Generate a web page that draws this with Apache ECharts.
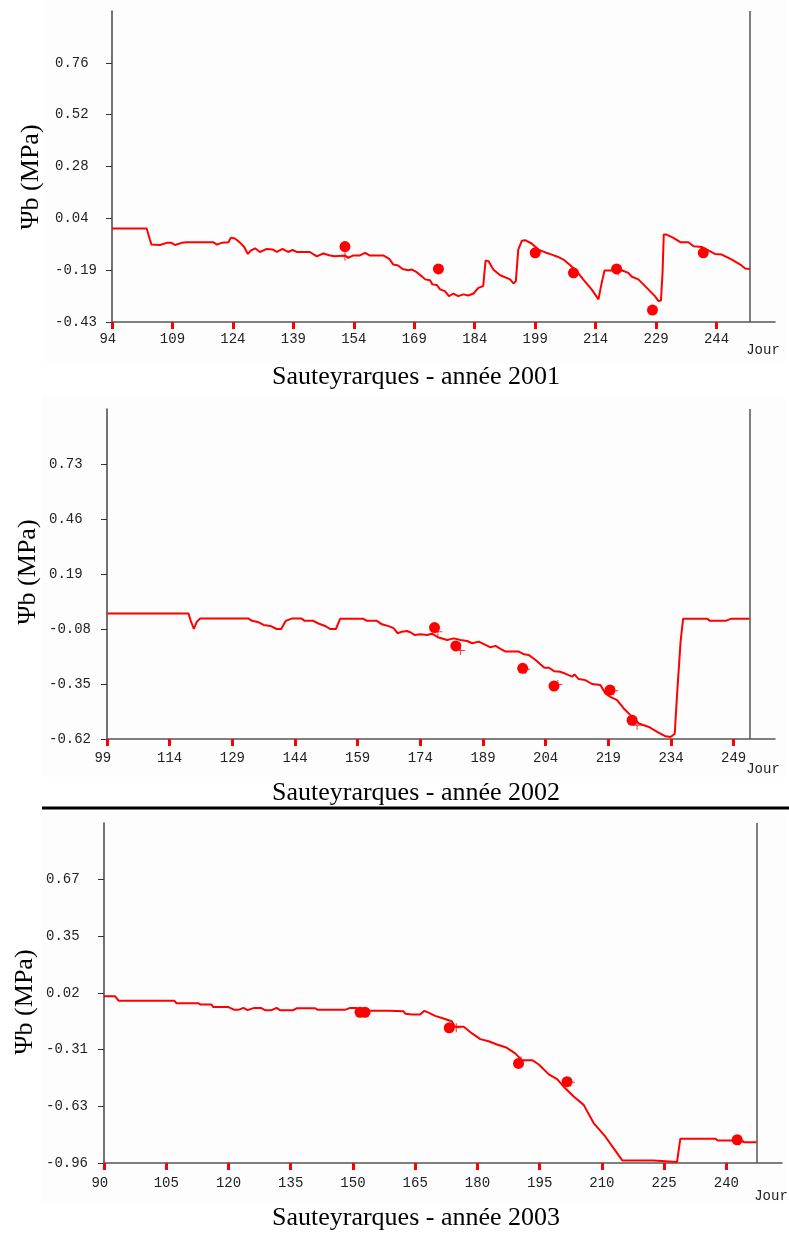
<!DOCTYPE html>
<html>
<head>
<meta charset="utf-8">
<script src="https://cdn.jsdelivr.net/npm/echarts@6/dist/echarts.min.js"></script>
<style>
  html, body { margin: 0; padding: 0; background: #ffffff; }
  #chart { width: 789px; height: 1237px; }
</style>
</head>
<body>
<div id="chart"></div>
<script>
// Simulated predawn leaf water potential (line), measurements (dots) and
// model values on measurement days (crosses), Sauteyrarques 2001-2003.

const years = ['2001', '2002', '2003'];

// [day of year, Ψb in MPa]
const line2001 = [
  [94,0.0],[102.6,0.0],[103.4,-0.051],[103.8,-0.074],[105.9,-0.076],[107.6,-0.066],[108.8,-0.066],[109.6,-0.076],[111.3,-0.066],[112.5,-0.063],
  [119.1,-0.063],[120,-0.074],[121.2,-0.066],[122.9,-0.063],[123.5,-0.042],[124.5,-0.046],[125.8,-0.066],[126.8,-0.085],[127.7,-0.117],[128.4,-0.102],
  [129.5,-0.091],[130.7,-0.108],[132.4,-0.094],[133.9,-0.097],[134.9,-0.108],[136.3,-0.094],[137.7,-0.108],[138.8,-0.099],[139.8,-0.108],[143.1,-0.108],
  [144.8,-0.128],[146.4,-0.115],[148.1,-0.124],[149.3,-0.128],[151.8,-0.124],[152.6,-0.135],[153.9,-0.124],[155.5,-0.124],[156.8,-0.112],[157.9,-0.124],
  [161.3,-0.124],[162.8,-0.140],[163.8,-0.166],[165.0,-0.170],[166.1,-0.186],[167.5,-0.192],[168.4,-0.189],[169.6,-0.201],[170.8,-0.219],[171.7,-0.234],
  [172.9,-0.238],[173.5,-0.257],[174.6,-0.260],[175.4,-0.280],[176.6,-0.288],[177.6,-0.311],[178.7,-0.299],[179.9,-0.311],[181.2,-0.303],[182.4,-0.308],
  [183.7,-0.299],[184.9,-0.273],[186.1,-0.265],[186.7,-0.147],[187.4,-0.150],[188.6,-0.189],[190.3,-0.215],[192.8,-0.234],[193.6,-0.253],[194.2,-0.242],
  [194.8,-0.097],[195.7,-0.056],[196.5,-0.054],[198.1,-0.069],[199.8,-0.097],[201.4,-0.109],[203.1,-0.120],[204.7,-0.131],[206.0,-0.143],[207.2,-0.161],
  [209.3,-0.196],[210.9,-0.234],[213.0,-0.280],[214.7,-0.326],[215.5,-0.250],[216.2,-0.193],[218.0,-0.193],[220.5,-0.192],[222.1,-0.204],[223.0,-0.222],
  [224.6,-0.234],[226.7,-0.273],[228.7,-0.311],[229.6,-0.334],[230.2,-0.331],[230.6,-0.204],[230.9,-0.028],[231.6,-0.028],[233.3,-0.043],[235.0,-0.063],
  [237.0,-0.063],[238.3,-0.082],[240.3,-0.085],[241.6,-0.097],[243.6,-0.117],[245.3,-0.120],[247.8,-0.143],[250.2,-0.170],[251.1,-0.184],[252.3,-0.186]
];
const measured2001 = [[151.8,-0.083],[175.0,-0.186],[199.0,-0.112],[208.5,-0.204],[219.2,-0.186],[228.1,-0.375],[240.7,-0.112]];
const simulated2001 = [[151.8,-0.128],[199.5,-0.108],[219.6,-0.196]];

const line2002 = [
  [99,-0.004],[118.5,-0.004],[119.1,-0.043],[119.8,-0.080],[120.5,-0.044],[121.3,-0.029],[132.9,-0.029],[133.7,-0.040],[135.3,-0.047],[136.5,-0.060],
  [138.1,-0.065],[139.6,-0.080],[140.7,-0.080],[141.8,-0.040],[143.2,-0.029],[145.6,-0.029],[146.3,-0.040],[148.4,-0.040],[149.6,-0.053],[151.2,-0.065],
  [152.4,-0.080],[153.8,-0.080],[154.8,-0.030],[160.4,-0.030],[161.2,-0.040],[163.6,-0.040],[164.8,-0.057],[166.4,-0.066],[167.6,-0.076],[168.6,-0.101],
  [169.6,-0.093],[170.8,-0.090],[171.6,-0.096],[172.6,-0.109],[174.0,-0.106],[175.6,-0.109],[176.8,-0.103],[178.4,-0.122],[180.4,-0.134],[182.0,-0.126],
  [183.6,-0.134],[185.2,-0.139],[186.4,-0.150],[188.0,-0.142],[189.6,-0.158],[190.8,-0.170],[192.0,-0.163],[193.2,-0.178],[194.4,-0.191],[197.6,-0.191],
  [198.8,-0.204],[200.0,-0.208],[201.6,-0.232],[202.8,-0.254],[203.7,-0.270],[204.8,-0.270],[206.0,-0.287],[207.5,-0.290],[209.1,-0.303],[210.3,-0.314],
  [210.9,-0.303],[211.9,-0.326],[213.5,-0.331],[215.1,-0.350],[217.1,-0.355],[218.3,-0.396],[219.5,-0.413],[221.1,-0.429],[222.7,-0.470],[224.3,-0.503],
  [226.3,-0.544],[228.7,-0.561],[230.7,-0.585],[232.7,-0.607],[233.9,-0.610],[234.9,-0.594],[235.5,-0.388],[236.3,-0.142],[236.9,-0.030],[242.7,-0.030],
  [243.3,-0.040],[247.1,-0.040],[248.3,-0.030],[252.8,-0.030]
];
const measured2002 = [[177.4,-0.073],[182.5,-0.163],[198.5,-0.273],[206.0,-0.360],[219.4,-0.380],[224.7,-0.528]];
const simulated2002 = [[178.2,-0.093],[183.6,-0.186],[199.2,-0.277],[206.9,-0.352],[220.3,-0.383],[225.9,-0.553]];

const line2003 = [
  [90,0.001],[92.7,0.001],[93.5,-0.024],[106.9,-0.024],[107.5,-0.039],[112.7,-0.039],[113.3,-0.047],[115.9,-0.047],[116.3,-0.060],[119.9,-0.060],
  [121.4,-0.077],[122.4,-0.077],[123.6,-0.066],[124.6,-0.079],[126.2,-0.066],[127.8,-0.066],[128.8,-0.079],[130.4,-0.079],[131.6,-0.066],[132.4,-0.079],
  [135.6,-0.079],[136.4,-0.068],[140.9,-0.068],[141.5,-0.077],[148.1,-0.077],[149.3,-0.066],[150.9,-0.066],[151.3,-0.083],[158.6,-0.083],[159.0,-0.077],
  [162.2,-0.085],[162.6,-0.099],[164.2,-0.104],[166.2,-0.104],[167.2,-0.083],[168.2,-0.093],[169.8,-0.112],[171.8,-0.127],[173.8,-0.143],[174.6,-0.175],
  [176.7,-0.175],[178.7,-0.213],[180.7,-0.246],[182.7,-0.258],[184.7,-0.277],[187.1,-0.296],[189.1,-0.328],[190.7,-0.367],[193.2,-0.367],[194.8,-0.392],
  [197.2,-0.449],[199.2,-0.476],[200.8,-0.520],[203.2,-0.577],[205.6,-0.625],[208.0,-0.730],[210.8,-0.807],[212.5,-0.864],[214.9,-0.945],[222.5,-0.945],
  [222.9,-0.954],[228.1,-0.954],[228.9,-0.820],[237.4,-0.820],[237.9,-0.830],[243.4,-0.830],[244.2,-0.840],[247.3,-0.840]
];
const measured2003 = [[151.7,-0.091],[152.9,-0.091],[173.2,-0.181],[189.9,-0.386],[201.6,-0.491],[242.6,-0.826]];
const simulated2003 = [[174.9,-0.181],[190.5,-0.370],[202.4,-0.495],[243.2,-0.832]];

// Axis ticks and labels
const xTicks2001 = [94,109,124,139,154,169,184,199,214,229,244];
const xTicks2002 = [99,114,129,144,159,174,189,204,219,234,249];
const xTicks2003 = [90,105,120,135,150,165,180,195,210,225,240];
const yTickLabels2001 = ['-0.43','-0.19','0.04','0.28','0.52','0.76'];
const yTickLabels2002 = ['-0.62','-0.35','-0.08','0.19','0.46','0.73'];
const yTickLabels2003 = ['-0.96','-0.63','-0.31','0.02','0.35','0.67'];
const yMins = [-0.43, -0.62, -0.96];
const yMax = 1.0;
const lastDays = [252.3, 252.8, 247.3];

const lines = [line2001, line2002, line2003];
const measured = [measured2001, measured2002, measured2003];
const simulated = [simulated2001, simulated2002, simulated2003];
const xTicks = [xTicks2001, xTicks2002, xTicks2003];
const yTickLabels = [yTickLabels2001, yTickLabels2002, yTickLabels2003];

// Panel geometry
const panels = [
  { grid: { left: 112, top: 11,  width: 663, height: 311 }, xMax: 258.5, labelMargin: 10, yLabelMargin: 57,
    title: { x: 416, y: 377 },  yName: { x: 31, y: 177 },  jour: { x: 763, y: 350 },  bg: [44, 0, 741, 362] },
  { grid: { left: 107, top: 409, width: 668, height: 330 }, xMax: 258.9, labelMargin: 12, yLabelMargin: 58,
    title: { x: 416, y: 793 },  yName: { x: 28, y: 572 },  jour: { x: 763, y: 769 },  bg: [42, 395, 743, 382] },
  { grid: { left: 104, top: 823, width: 678, height: 340 }, xMax: 253.4, labelMargin: 13, yLabelMargin: 58,
    title: { x: 416, y: 1218 }, yName: { x: 25, y: 1002 }, jour: { x: 771, y: 1196 }, bg: [42, 812, 743, 391] }
];

const RED = '#ff0000';
const MONO = '"Liberation Mono", "Courier New", monospace';
const SERIF = '"Liberation Serif", "Times New Roman", serif';
const crossPath = 'path://M4,0H5V4H9V5H5V9H4V5H0V4H4Z';

const grid = [], xAxis = [], yAxis = [], series = [], graphic = [];

panels.forEach((p, i) => {
  const yMin = yMins[i];
  const yStep = (yMax - yMin) / 6;
  const yTickValues = yTickLabels[i].map((_, k) => yMin + k * yStep);

  grid.push(Object.assign({ containLabel: false }, p.grid));

  xAxis.push({
    type: 'value', gridIndex: i, min: xTicks[i][0], max: p.xMax,
    axisLine: { show: true, onZero: false, lineStyle: { color: '#555555', width: 1.5 } },
    axisTick: { show: true, customValues: xTicks[i], length: 7, lineStyle: { color: RED, width: 3 } },
    axisLabel: {
      show: true, customValues: xTicks[i], margin: p.labelMargin,
      fontFamily: MONO, fontSize: 14, color: '#222222',
      formatter: v => String(v).padEnd(3, ' ')
    },
    splitLine: { show: false }
  });

  yAxis.push({
    type: 'value', gridIndex: i, min: yMin, max: yMax,
    axisLine: { show: true, onZero: false, lineStyle: { color: '#444444', width: 1.5 } },
    axisTick: { show: true, customValues: yTickValues, length: 6, lineStyle: { color: '#333333', width: 1 } },
    axisLabel: {
      show: true, customValues: yTickValues, margin: p.yLabelMargin, align: 'left',
      fontFamily: MONO, fontSize: 14, color: '#222222',
      formatter: v => yTickLabels[i][Math.round((v - yMin) / yStep)]
    },
    splitLine: { show: false }
  });

  series.push({
    type: 'line', xAxisIndex: i, yAxisIndex: i, data: lines[i],
    showSymbol: false, symbol: 'none', z: 3,
    lineStyle: { color: RED, width: 2 },
    markLine: {
      silent: true, symbol: 'none', label: { show: false },
      lineStyle: { color: '#555555', width: 1.5, type: 'solid' },
      data: [{ xAxis: lastDays[i] }]
    }
  });
  series.push({
    type: 'scatter', xAxisIndex: i, yAxisIndex: i, data: simulated[i],
    symbol: crossPath, symbolSize: 9, z: 4,
    itemStyle: { color: RED }
  });
  series.push({
    type: 'scatter', xAxisIndex: i, yAxisIndex: i, data: measured[i],
    symbol: 'circle', symbolSize: 11, z: 5,
    itemStyle: { color: RED, opacity: 1 }
  });

  graphic.push({
    type: 'rect', silent: true, z: -10,
    shape: { x: p.bg[0], y: p.bg[1], width: p.bg[2], height: p.bg[3] },
    style: { fill: '#fdfdfd' }
  });
  graphic.push({
    type: 'text', x: p.title.x, y: p.title.y, silent: true,
    style: { text: 'Sauteyrarques - année ' + years[i], font: '26px ' + SERIF, fill: '#000000', align: 'center', verticalAlign: 'middle' }
  });
  graphic.push({
    type: 'text', x: p.yName.x, y: p.yName.y, rotation: Math.PI / 2, silent: true,
    style: { text: 'Ψb (MPa)', font: '26px ' + SERIF, fill: '#000000', align: 'center', verticalAlign: 'middle' }
  });
  graphic.push({
    type: 'text', x: p.jour.x, y: p.jour.y, silent: true,
    style: { text: 'Jour', font: '14px ' + MONO, fill: '#222222', align: 'center', verticalAlign: 'middle' }
  });
});

// Rule separating the 2002 and 2003 panels
graphic.push({
  type: 'line', silent: true,
  shape: { x1: 42, y1: 808, x2: 789, y2: 808 },
  style: { stroke: '#000000', lineWidth: 3 }
});

const chart = echarts.init(document.getElementById('chart'), null, { renderer: 'canvas' });
chart.setOption({
  animation: false,
  backgroundColor: '#ffffff',
  grid, xAxis, yAxis, series, graphic
});
</script>
</body>
</html>
